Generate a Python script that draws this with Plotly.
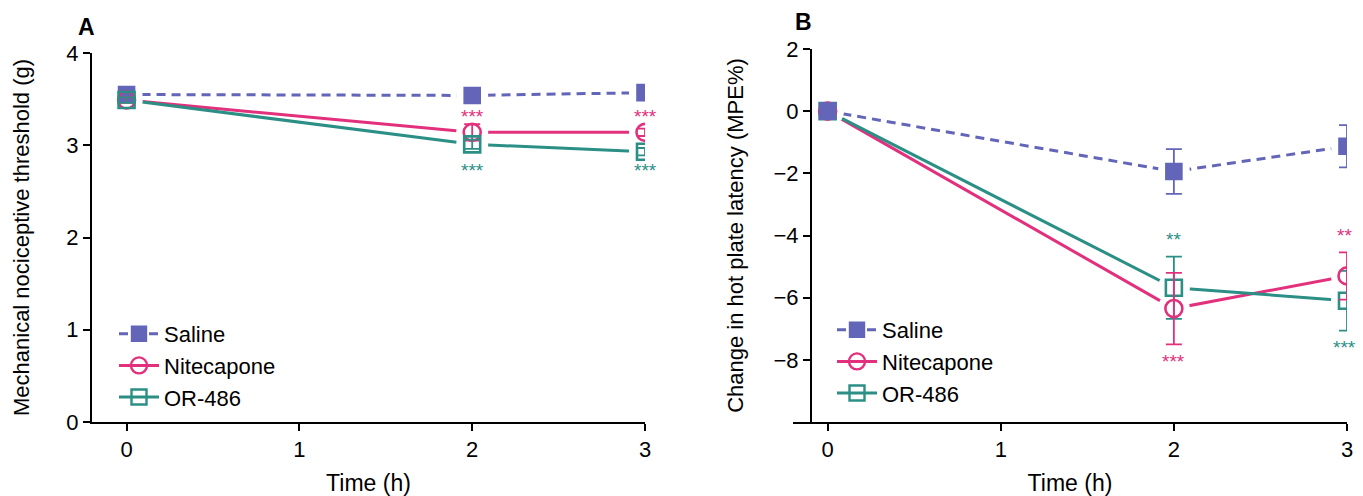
import plotly.graph_objects as go

# ---------------- data ----------------
time_h = [0, 2, 3]
series_names = ["Saline", "Nitecapone", "OR-486"]

# Panel A: mechanical nociceptive threshold (g)
a_saline = [3.55, 3.54, 3.57]
a_nitecapone = [3.49, 3.14, 3.14]
a_or486 = [3.49, 3.01, 2.93]
a_saline_err = [0.03, 0.03, 0.03]
a_nitecapone_err = [0.03, 0.09, 0.04]
a_or486_err = [0.03, 0.05, 0.04]

# Panel B: change in hot plate latency (MPE%)
b_saline = [0.0, -1.94, -1.13]
b_nitecapone = [0.0, -6.35, -5.30]
b_or486 = [0.0, -5.68, -6.10]
b_saline_err = [0.0, 0.72, 0.68]
b_nitecapone_err = [0.0, 1.15, 0.76]
b_or486_err = [0.0, 1.00, 0.96]

# significance marks
a_star_x = [2, 3, 2, 3]
a_star_y = [3.31, 3.31, 2.73, 2.73]
a_star_text = ["***", "***", "***", "***"]
a_star_series = ["Nitecapone", "Nitecapone", "OR-486", "OR-486"]

b_star_x = [2, 2, 3, 3]
b_star_y = [-4.13, -8.05, -4.0, -7.6]
b_star_text = ["**", "***", "**", "***"]
b_star_series = ["OR-486", "Nitecapone", "Nitecapone", "OR-486"]

# ---------------- styles ----------------
colors = {"Saline": "#6365b8", "Nitecapone": "#e2307c", "OR-486": "#2b8f86"}
symbols = {"Saline": "square", "Nitecapone": "circle-open", "OR-486": "square-open"}
msizes = {"Saline": 15, "Nitecapone": 17, "OR-486": 16}
dashes = {"Saline": "9px,6px", "Nitecapone": "solid", "OR-486": "solid"}
FONT = "Liberation Sans, Arial, sans-serif"
FS = 22

# page has an 8px body margin; figure sized to fill the rest of the window
OFF = 8
W, H = 1363 - OFF, 496 - OFF


def px_x(p):
    return (p - OFF) / W


def px_y(p):
    return 1 - (p - OFF) / H


panel_a = {"Saline": (a_saline, a_saline_err),
           "Nitecapone": (a_nitecapone, a_nitecapone_err),
           "OR-486": (a_or486, a_or486_err)}
panel_b = {"Saline": (b_saline, b_saline_err),
           "Nitecapone": (b_nitecapone, b_nitecapone_err),
           "OR-486": (b_or486, b_or486_err)}

fig = go.Figure()


def add_panel(data, xa, ya, legend_name, marker_order):
    # connecting lines
    for name in series_names:
        y, _ = data[name]
        fig.add_trace(go.Scatter(
            x=time_h, y=y, mode="lines", xaxis=xa, yaxis=ya,
            line=dict(color=colors[name], width=3, dash=dashes[name]),
            showlegend=False, hoverinfo="skip"))
    # white halos leaving a gap between lines and markers
    for name in series_names:
        y, _ = data[name]
        fig.add_trace(go.Scatter(
            x=time_h, y=y, mode="markers", xaxis=xa, yaxis=ya,
            marker=dict(symbol="circle", size=32, color="white", line=dict(width=0)),
            showlegend=False, hoverinfo="skip"))
    # markers with error bars
    for name in marker_order:
        y, err = data[name]
        fig.add_trace(go.Scatter(
            x=time_h, y=y, mode="markers", xaxis=xa, yaxis=ya,
            marker=dict(symbol=symbols[name], size=msizes[name], color=colors[name],
                        line=dict(color=colors[name], width=2.6)),
            error_y=dict(type="data", array=err, visible=True, color=colors[name],
                         thickness=1.8, width=8),
            showlegend=False, name=name))
    # legend entries
    for name in series_names:
        fig.add_trace(go.Scatter(
            x=[None], y=[None], mode="lines+markers", xaxis=xa, yaxis=ya,
            name=name, legend=legend_name,
            line=dict(color=colors[name], width=3, dash=dashes[name]),
            marker=dict(symbol=symbols[name], size=msizes[name] - 1, color=colors[name],
                        line=dict(color=colors[name], width=2.4))))


add_panel(panel_a, "x", "y", "legend", ["Saline", "Nitecapone", "OR-486"])
add_panel(panel_b, "x2", "y2", "legend2", ["OR-486", "Nitecapone", "Saline"])

annotations = []
for xs, ys, ts, ss, xr, yr in [(a_star_x, a_star_y, a_star_text, a_star_series, "x", "y"),
                               (b_star_x, b_star_y, b_star_text, b_star_series, "x2", "y2")]:
    for x, y, t, s in zip(xs, ys, ts, ss):
        shift = -3 if (xr == "x2" and x == 3) else 0
        annotations.append(dict(x=x, y=y, xref=xr, yref=yr, text=t, showarrow=False,
                                xshift=shift,
                                font=dict(family=FONT, size=19, color=colors[s])))

annotations.append(dict(x=px_x(86), y=px_y(27), xref="paper", yref="paper", text="<b>A</b>",
                        xanchor="center", yanchor="middle", showarrow=False,
                        font=dict(family=FONT, size=23, color="black")))
annotations.append(dict(x=px_x(803), y=px_y(22), xref="paper", yref="paper", text="<b>B</b>",
                        xanchor="center", yanchor="middle", showarrow=False,
                        font=dict(family=FONT, size=23, color="black")))

axis_common = dict(showline=True, linecolor="black", linewidth=2, ticks="outside",
                   ticklen=7, tickwidth=2, tickcolor="black", showgrid=False,
                   zeroline=False, automargin=False,
                   tickfont=dict(family=FONT, size=FS, color="black"))

fig.update_layout(
    width=W, height=H,
    margin=dict(l=0, r=0, t=0, b=0),
    paper_bgcolor="white", plot_bgcolor="white",
    font=dict(family=FONT, color="black"),
    annotations=annotations,
    xaxis=dict(axis_common, domain=[px_x(92), px_x(645)], range=[-0.2, 3],
               tickvals=[0, 1, 2, 3], anchor="y",
               title=dict(text="Time (h)", standoff=14, font=dict(family=FONT, size=23))),
    yaxis=dict(axis_common, domain=[px_y(422), px_y(53)], range=[0, 4],
               tickvals=[0, 1, 2, 3, 4], anchor="x",
               title=dict(text="Mechanical nociceptive threshold (g)", standoff=31,
                          font=dict(family=FONT, size=FS))),
    xaxis2=dict(axis_common, domain=[px_x(793), px_x(1347)], range=[-0.2, 3],
                tickvals=[0, 1, 2, 3], anchor="y2",
                title=dict(text="Time (h)", standoff=14, font=dict(family=FONT, size=23))),
    yaxis2=dict(axis_common, domain=[px_y(422), px_y(49)], range=[-10, 2],
                tickvals=[-8, -6, -4, -2, 0, 2], anchor="free", position=px_x(811),
                title=dict(text="Change in hot plate latency (MPE%)", standoff=23,
                           font=dict(family=FONT, size=FS))),
    legend=dict(x=px_x(114), y=px_y(313), xanchor="left", yanchor="top",
                bgcolor="rgba(0,0,0,0)", font=dict(family=FONT, size=FS),
                tracegroupgap=0, itemwidth=40),
    legend2=dict(x=px_x(832), y=px_y(309), xanchor="left", yanchor="top",
                 bgcolor="rgba(0,0,0,0)", font=dict(family=FONT, size=FS),
                 tracegroupgap=0, itemwidth=40),
)

fig.write_html("out.html")
